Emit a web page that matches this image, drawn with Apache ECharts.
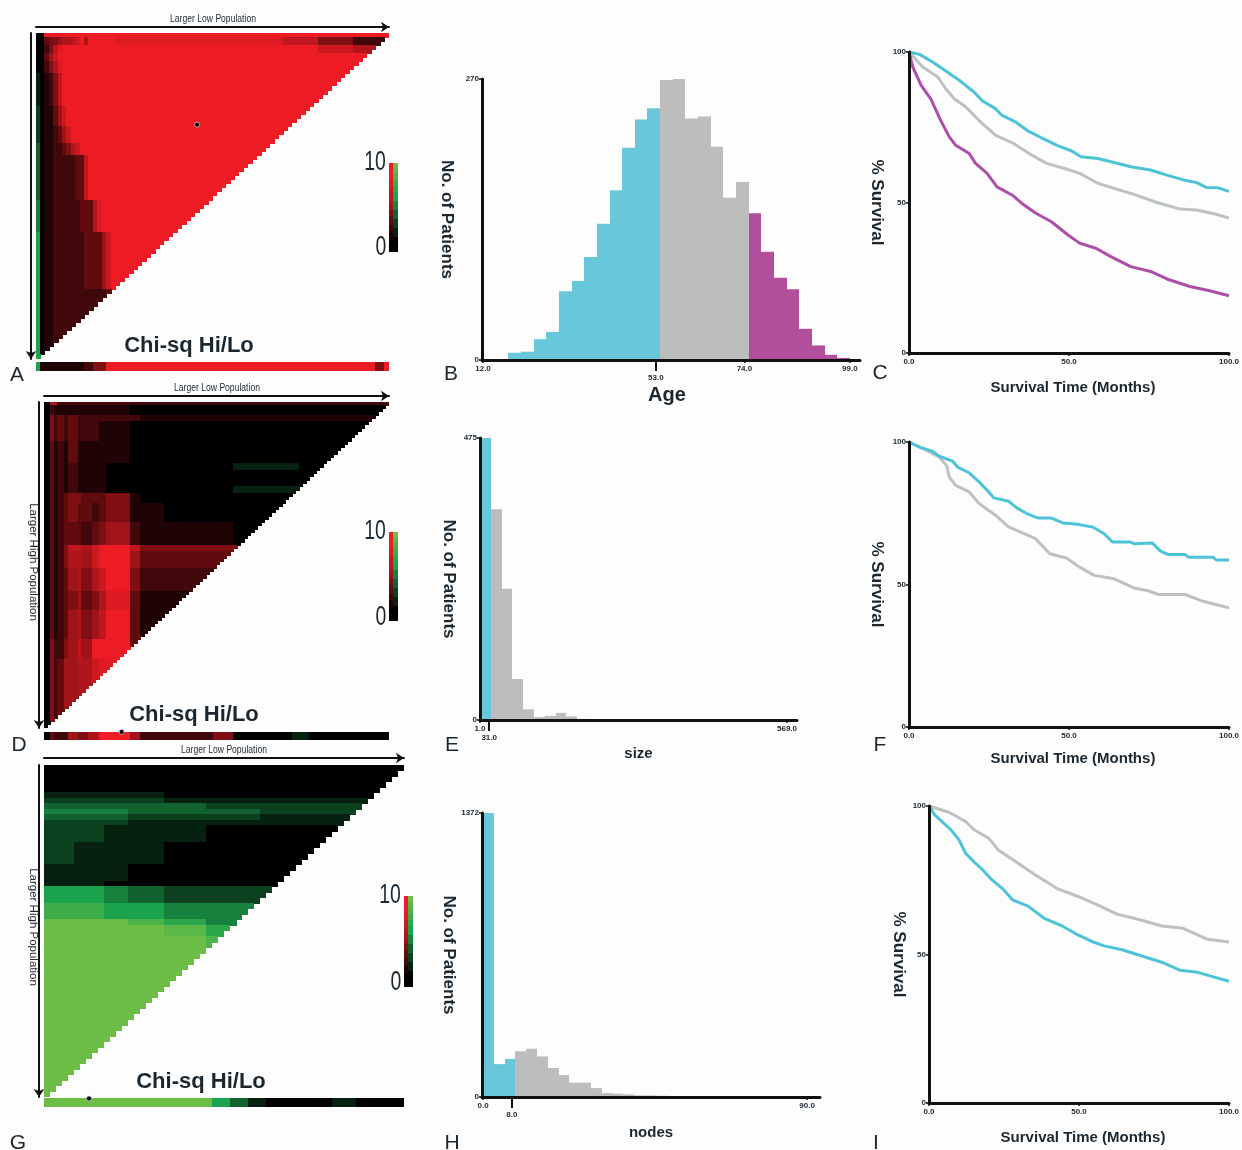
<!DOCTYPE html>
<html>
<head>
<meta charset="utf-8">
<title>X-tile panels</title>
<script src="https://cdn.jsdelivr.net/npm/echarts@6/dist/echarts.min.js"></script>
<style>
	html, body { margin: 0; padding: 0; background: #fdfdfe; }
	#chartBox { width: 1242px; height: 1150px; }
</style>
</head>
<body>
<div id="chartBox"></div>
<script>
// heat tables: [rows in band, one char per column band]
// 0-9 and X = red side (0..10), a-j = green side (-1..-10)
var heatASpans = [1,1,1,1,1,1,1,1,1,1,1,1,1,1,1,1,1,1,38,8,8,8];
var heatARows = [
	[1, '00XXXXXXXXXXXXXXXXXXXX'],
	[2, '0034456678X6XXXXXX9742'],
	[2, '002479XXXXXXXXXXXXXX86'],
	[2, '00358XXXXXXXXXXXXXXXXX'],
	[3, '002469XXXXXXXXXXXXXXXX'],
	[8, 'a01247XXXXXXXXXXXXXXXX'],
	[5, 'b011358XXXXXXXXXXXXXXX'],
	[4, 'b0112358XXXXXXXXXXXXXX'],
	[3, 'c011223468XXXXXXXXXXXX'],
	[11, 'c01122222337XXXXXXXXXX'],
	[8, 'd01122222233369XXXXXXX'],
	[14, 'e0112222222333358XXXXX'],
	[17, 'e0112222222222223XXXXX']
];
var stripASpans = [1,10,2,3,61,2,1];
var stripAVals = [-5,1,2,4,10,4,10];

var heatDSpans = [2,1,1,2,1,3,1,3,2,2,7,3,7,10,10,19,26];
var heatDRows = [
	[1, '06622222222222222'],
	[3, '02111111111000000'],
	[2, '04232322222211111'],
	[6, '04232322211000000'],
	[7, '03121311111000000'],
	[2, '031212111100000a0'],
	[5, '03121211110000000'],
	[2, '031212111100000a0'],
	[3, '03123443334100000'],
	[6, '03123433234110000'],
	[7, '03123332345211100'],
	[2, '031247768XX744444'],
	[5, '031246658XX533333'],
	[7, '0312356468X422222'],
	[6, '03123453469311111'],
	[9, '0312356457X311111'],
	[6, '04224575XXX311111'],
	[21, '04235566899311111']
];
var stripDSpans = [2,1,4,3,3,3,4,5,3,8,9,4,6,17,5,23];
var stripDVals = [0,3,2,5,4,6,10,10,5,2,2,2,4,0,-1,0];

var heatGSpans = [5,5,4,6,7,9,24];
var heatGRows = [
	[5, '0000000'],
	[1, 'aaaa000'],
	[1, 'bbbbaaa'],
	[1, 'cccccbb'],
	[1, 'dddcccb'],
	[1, 'cccbbba'],
	[1, 'bbbaaaa'],
	[3, 'bbaaa00'],
	[4, 'baaa000'],
	[3, 'aaa0000'],
	[1, 'aa00000'],
	[3, 'eedcbbb'],
	[3, 'ggeeddc'],
	[1, 'jjjhfdd'],
	[2, 'jjjjifd'],
	[3, 'jjjjjhj'],
	[26, 'jjjjjjj']
];
var stripGSpans = [28,3,3,3,11,4,8];
var stripGVals = [-10,-5,-3,-1,0,-1,0];

var legendRed = [10,10,10,10,10,10,9,9,8,8,7,7,6,6,5,5,4,4,3,3,3,2,2,1,1,1,0,0,0,0];
var legendGreen = [-10,-10,-9,-9,-8,-8,-7,-7,-6,-6,-5,-5,-5,-4,-4,-4,-3,-3,-3,-2,-2,-2,-1,-1,-1,0,0,0,0,0];

// histograms
var ageStart = 18;
var ageBinWidth = 3;
var ageCounts = [7,8,20,27,66,76,99,131,163,204,231,242,269,270,232,234,205,156,171,141,104,79,68,30,14,5,2];
var ageTicks = [12,74,99];
var ageCutTick = [53];

var sizeStart = 1;
var sizeBinWidth = 20;
var sizeCounts = [475,355,221,69,18,5,7,12,6,2];
var sizeTicks = [1,569];
var sizeCutTick = [18];

var nodeStart = 0;
var nodeBinWidth = 3;
var nodeCounts = [1372,159,184,221,233,196,140,106,69,69,43,19,16,13,8,8,6,5,4,3,3,3,2,2,1,1,1,1,1,1];
var nodeTicks = [0,90];
var nodeCutTick = [8];

// survival curves, [months, % surviving]
var survCHigh = [[0,100],[3.3,99.2],[7.4,96.7],[11.5,93.7],[15.7,90.6],[20.3,86.7],[22.9,83.8],[27,81.2],[29,79],[33.2,76.8],[37.3,73.7],[41.4,71.5],[46.6,68.8],[50.7,67.2],[53.8,65.2],[59,64.6],[64.1,63.3],[69.3,61.9],[75.5,60.8],[80.6,59.1],[85.8,57.5],[89.9,56.6],[92.9,55],[96.5,54.9],[100,53.7]];
var survCMid = [[0,100],[4.3,95],[9,91.7],[11.5,87.8],[14.1,84.5],[17.7,81.8],[21.8,77.3],[27,72.4],[32.7,69.6],[38.4,65.7],[43,63],[48.7,61.3],[53.3,59.7],[59,56.4],[64.1,54.7],[70.3,52.7],[77.5,50],[84.7,47.8],[89.9,47.5],[96,46.1],[100,44.8]];
var survCLow = [[0,100],[1.2,95],[3.8,88.9],[6.8,84.4],[9.9,77.3],[12.6,71.8],[14.6,69],[18.8,66.3],[20.8,63],[24.4,59.7],[27.5,55.2],[32.2,52.5],[35.3,49.7],[39.4,46.6],[44.5,43.6],[49.7,39.2],[53.3,36.5],[58.4,34.8],[63.1,32],[69.3,28.7],[75.5,27.1],[80.6,24.6],[87.8,22.1],[94,20.7],[100,19]];
var survFHigh = [[0,100],[3.3,98.2],[7.4,96.7],[9.5,95],[13.6,93.3],[15.2,91.2],[18.8,89.2],[21.9,86],[24.5,83],[26.5,80.4],[31.1,79.2],[33.7,76.9],[36.8,74.9],[40.4,73.3],[44.5,73.3],[48.1,71.6],[52.8,71.1],[57.4,70.2],[60.9,67.9],[63.6,64.9],[69.3,64.9],[70.3,64.3],[76,64.6],[78.6,61.7],[81.1,60.5],[86.3,60.5],[87.3,59.6],[95,59.6],[96,58.6],[100,58.6]];
var survFMid = [[0,100],[5.4,97.1],[9.5,94.7],[11.8,91.6],[12.6,87.7],[14.6,84.8],[18.8,82.5],[21.9,78.4],[27,74.3],[31.1,70.2],[39.4,66.2],[44,60.8],[49.2,59.3],[53.3,56.1],[57.9,53.2],[64.1,52],[70.3,48.8],[74.4,47.9],[78,46.5],[86.3,46.5],[91.9,44.1],[100,41.8]];
var survIMid = [[0,100],[6.8,97.8],[12.2,94.8],[15,92],[19.9,89.2],[23.1,85.2],[28.6,81.5],[35.1,77],[42.7,72.2],[49.3,69.7],[55.8,66.9],[62.9,63.5],[70,61.8],[77.6,59.6],[84.7,58.8],[92.9,55.1],[100,54.2]];
var survILow = [[0,100],[1.9,97],[7.3,92],[10,88.6],[12.2,84.1],[15,81.2],[17.7,78.7],[21,75.1],[24.8,71.9],[28,68.3],[33,66.3],[38.4,62.2],[44.4,59.6],[49.8,56.5],[54.8,54.2],[58.1,53],[64.7,51.5],[71.2,49.4],[77.6,47.4],[83.6,44.7],[89.6,44],[95.1,42.4],[100,41]];

var CYAN = '#69c7da';
var GREY = '#bdbdbd';
var PURPLE = '#b24f9d';
var LINE_CYAN = '#4cc3d7';
var LINE_GREY = '#bcc1c4';
var LINE_PURPLE = '#ab4fa9';
var INK = '#1b2730';
var FONT = '"Liberation Sans", Arial, sans-serif';

var option = {
	backgroundColor: '#fdfdfe',
	animation: false,
	grid: [],
	xAxis: [],
	yAxis: [],
	series: [],
	graphic: [],
	visualMap: {
		show: false,
		min: -10,
		max: 10,
		dimension: 2,
		seriesIndex: [],
		inRange: { color: ['#6cbd45', '#1ca34e', '#000000', '#a01318', '#ed1c24'] }
	}
};

function cats(n) {
	let out = [];
	for (let i = 0; i < n; i++) out.push(i);
	return out;
}

function charValue(ch) {
	if (ch === 'X') return 10;
	if (ch >= '0' && ch <= '9') return +ch;
	return -(ch.charCodeAt(0) - 96);
}

function expandHeat(spans, rows, n) {
	let out = [];
	let r = 0;
	rows.forEach(function (band) {
		for (let k = 0; k < band[0]; k++) {
			let c = 0;
			for (let b = 0; b < spans.length; b++) {
				for (let s = 0; s < spans[b]; s++) {
					// lower right half of the table has no cells
					if (c + r < n) out.push([c, r, charValue(band[1].charAt(b))]);
					c++;
				}
			}
			r++;
		}
	});
	return out;
}

function expandStrip(spans, vals) {
	let out = [];
	let c = 0;
	spans.forEach(function (s, i) {
		for (let k = 0; k < s; k++) {
			out.push([c, 0, vals[i]]);
			c++;
		}
	});
	return out;
}

function plainGrid(rect, xCount, yCount, yInverse) {
	let idx = option.grid.length;
	option.grid.push(rect);
	option.xAxis.push({ type: 'category', gridIndex: idx, data: cats(xCount), show: false });
	option.yAxis.push({ type: 'category', gridIndex: idx, data: cats(yCount), show: false, inverse: !!yInverse });
	return idx;
}

// cells snapped outward to whole pixels, the heatmap series leaves hairlines between them
function renderCell(params, api) {
	let p = api.coord([api.value(0), api.value(1)]);
	let s = api.size([1, 1]);
	let left = Math.floor(p[0] - s[0] / 2);
	let right = Math.ceil(p[0] + s[0] / 2);
	let top = Math.floor(p[1] - s[1] / 2);
	let bottom = Math.ceil(p[1] + s[1] / 2);
	return {
		type: 'rect',
		shape: { x: left, y: top, width: right - left, height: bottom - top },
		style: { fill: api.visual('color') }
	};
}

function addHeatSeries(idx, data) {
	option.visualMap.seriesIndex.push(option.series.length);
	option.series.push({
		type: 'custom', xAxisIndex: idx, yAxisIndex: idx, data: data, renderItem: renderCell,
		encode: { x: 0, y: 1 }, progressive: 0, silent: true
	});
}

function addDot(idx, x, y, offset) {
	option.series.push({
		type: 'scatter', xAxisIndex: idx, yAxisIndex: idx, data: [[x, y]], symbolSize: 5, silent: true,
		symbolOffset: [0, offset || 0], z: 5, clip: false,
		itemStyle: { color: '#000', borderColor: '#c8c8c8', borderWidth: 0.8, opacity: 1 }
	});
}

function text(str, x, y, size, bold, extra) {
	let item = {
		type: 'text', x: x, y: y, z: 20, silent: true,
		style: {
			text: str, fill: INK, font: (bold ? 'bold ' : '') + size + 'px ' + FONT,
			textAlign: 'center', textVerticalAlign: 'middle'
		}
	};
	for (let k in (extra || {})) item[k] = extra[k];
	option.graphic.push(item);
}

function arrowLine(symbol) {
	return {
		show: true, onZero: false, symbol: symbol, symbolSize: [8, 8],
		lineStyle: { color: '#111', width: 2 }
	};
}

function heatPanel(p) {
	let idx = option.grid.length;
	option.grid.push(p.map);
	option.xAxis.push({
		type: 'category', gridIndex: idx, data: cats(p.n), position: 'top', offset: p.arrowGap[0],
		axisLine: arrowLine(['none', 'arrow']), axisTick: { show: false }, axisLabel: { show: false }, splitLine: { show: false }
	});
	option.yAxis.push({
		type: 'category', gridIndex: idx, data: cats(p.n), position: 'left', offset: p.arrowGap[1], inverse: true,
		axisLine: arrowLine(['arrow', 'none']), axisTick: { show: false }, axisLabel: { show: false }, splitLine: { show: false }
	});
	addHeatSeries(idx, expandHeat(p.spans, p.rows, p.n));
	if (p.mapDot) addDot(idx, p.mapDot[0], p.mapDot[1]);

	let stripIdx = plainGrid(p.strip, p.n, 1);
	addHeatSeries(stripIdx, expandStrip(p.stripSpans, p.stripVals));
	if (p.stripDot !== undefined) addDot(stripIdx, p.stripDot, 0, -4);

	let legIdx = plainGrid(p.legend, 2, legendRed.length, true);
	let legData = [];
	legendRed.forEach(function (v, i) {
		legData.push([0, i, v]);
		legData.push([1, i, legendGreen[i]]);
	});
	addHeatSeries(legIdx, legData);

	text('Larger Low Population', p.topLabel[0], p.topLabel[1], 11, false, { scaleX: 0.78 });
	if (p.sideLabel) text('Larger High Population', p.sideLabel[0], p.sideLabel[1], 11.5, false, { rotation: -Math.PI / 2 });
	text('Chi-sq Hi/Lo', p.title[0], p.title[1], 22, true);
	text('10', p.tick10[0], p.tick10[1], 27, false, { scaleX: 0.72 });
	text('0', p.tick0[0], p.tick0[1], 27, false, { scaleX: 0.72 });
	text(p.letter[0], p.letter[1], p.letter[2], 21, false);
}

function axisBase(idx) {
	return {
		type: 'value', gridIndex: idx, splitLine: { show: false },
		axisLine: { show: true, onZero: false, lineStyle: { color: '#111', width: 3 } },
		axisTick: { show: true, length: 3, lineStyle: { color: '#111', width: 1.5 } },
		axisLabel: { fontFamily: FONT, fontSize: 8, fontWeight: 'bold', color: INK, margin: 3 }
	};
}

function histPanel(p) {
	let idx = option.grid.length;
	option.grid.push(p.rect);
	let labelOf = function (v) {
		return p.tickNames && p.tickNames[v] ? p.tickNames[v] : v.toFixed(1);
	};

	let x = axisBase(idx);
	x.position = 'bottom';
	x.min = p.xMin;
	x.max = p.xMax;
	x.z = 4;
	x.name = p.xName;
	x.nameLocation = 'middle';
	x.nameGap = p.xNameGap;
	x.nameTextStyle = { fontFamily: FONT, fontWeight: 'bold', fontSize: p.xNameSize, color: INK, padding: p.xNamePad || 0 };
	x.axisTick.customValues = p.ticks;
	x.axisLabel.customValues = p.ticks;
	x.axisLabel.formatter = labelOf;
	x.axisLabel.margin = 5;
	option.xAxis.push(x);

	// the cut point has a longer tick and its label sits one line lower
	let cut = axisBase(idx);
	cut.position = 'bottom';
	cut.min = p.xMin;
	cut.max = p.xMax;
	cut.axisLine = { show: false, onZero: false };
	cut.axisTick = { show: true, length: 11, customValues: p.cutTick, lineStyle: { color: '#111', width: 2 } };
	cut.axisLabel.customValues = p.cutTick;
	cut.axisLabel.formatter = labelOf;
	cut.axisLabel.margin = 14;
	option.xAxis.push(cut);
	let xi = option.xAxis.length - 2;

	let y = axisBase(idx);
	y.min = 0;
	y.max = p.yMax;
	y.interval = p.yMax;
	y.z = 4;
	y.name = 'No. of Patients';
	y.nameLocation = 'middle';
	y.nameRotate = -90;
	y.nameGap = p.yNameGap;
	y.nameTextStyle = { fontFamily: FONT, fontWeight: 'bold', fontSize: 17, color: INK };
	y.axisLabel.formatter = function (v) { return String(v); };
	option.yAxis.push(y);
	let yi = option.yAxis.length - 1;

	let data = p.counts.map(function (c, i) {
		return [p.start + i * p.binWidth, p.start + (i + 1) * p.binWidth, c];
	});
	option.series.push({
		type: 'custom', xAxisIndex: xi, yAxisIndex: yi, data: data, silent: true,
		encode: { x: [0, 1], y: 2 },
		renderItem: function (params, api) {
			let a = api.coord([api.value(0), api.value(2)]);
			let b = api.coord([api.value(1), 0]);
			let left = Math.round(a[0]);
			let right = Math.round(b[0]);
			let fill = GREY;
			if (api.value(0) < p.cyanEnd) fill = CYAN;
			if (p.purpleStart !== undefined && api.value(0) >= p.purpleStart) fill = PURPLE;
			return { type: 'rect', shape: { x: left, y: a[1], width: right - left, height: b[1] - a[1] }, style: { fill: fill } };
		}
	});
	text(p.letter[0], p.letter[1], p.letter[2], 21, false);
}

function survPanel(p) {
	let idx = option.grid.length;
	option.grid.push(p.rect);
	let x = axisBase(idx);
	x.min = 0;
	x.max = 100;
	x.interval = 50;
	x.z = 4;
	x.name = 'Survival Time (Months)';
	x.nameLocation = 'middle';
	x.nameGap = p.xNameGap;
	x.nameTextStyle = { fontFamily: FONT, fontWeight: 'bold', fontSize: 15, color: INK, padding: [0, 0, 0, 8] };
	x.axisLabel.margin = 5;
	x.axisLabel.formatter = function (v) { return v.toFixed(1); };
	option.xAxis.push(x);
	let y = axisBase(idx);
	y.min = 0;
	y.max = 100;
	y.interval = 50;
	y.z = 4;
	y.name = '% Survival';
	y.nameLocation = 'middle';
	y.nameRotate = -90;
	y.nameGap = p.yNameGap;
	y.nameTextStyle = { fontFamily: FONT, fontWeight: 'bold', fontSize: 17, color: INK };
	option.yAxis.push(y);
	let xi = option.xAxis.length - 1;
	let yi = option.yAxis.length - 1;
	p.lines.forEach(function (l) {
		option.series.push({
			type: 'line', xAxisIndex: xi, yAxisIndex: yi, data: l[0], showSymbol: false, silent: true,
			lineStyle: { color: l[1], width: 3 }, clip: false
		});
	});
	text(p.letter[0], p.letter[1], p.letter[2], 21, false);
}

heatPanel({
	n: 80, spans: heatASpans, rows: heatARows, stripSpans: stripASpans, stripVals: stripAVals,
	map: { left: 36, top: 33, width: 353, height: 326 }, arrowGap: [6, 5],
	strip: { left: 36, top: 362, width: 353, height: 9 },
	legend: { left: 389, top: 163, width: 9, height: 89 },
	mapDot: [36, 22],
	topLabel: [213, 19], title: [189, 346], tick10: [375, 163], tick0: [381, 248], letter: ['A', 17, 375]
});
heatPanel({
	n: 100, spans: heatDSpans, rows: heatDRows, stripSpans: stripDSpans, stripVals: stripDVals,
	map: { left: 44, top: 402, width: 345, height: 326 }, arrowGap: [6, 5],
	strip: { left: 44, top: 732, width: 345, height: 8 },
	legend: { left: 389, top: 532, width: 9, height: 89 },
	stripDot: 22,
	topLabel: [217, 388], sideLabel: [33, 562], title: [194, 715], tick10: [375, 532], tick0: [381, 618], letter: ['D', 19, 745]
});
heatPanel({
	n: 60, spans: heatGSpans, rows: heatGRows, stripSpans: stripGSpans, stripVals: stripGVals,
	map: { left: 44, top: 765, width: 360, height: 332 }, arrowGap: [7, 5],
	strip: { left: 44, top: 1098, width: 360, height: 9 },
	legend: { left: 404, top: 896, width: 9, height: 91 },
	stripDot: 7,
	topLabel: [224, 750], sideLabel: [33, 927], title: [201, 1082], tick10: [390, 896], tick0: [396, 983], letter: ['G', 18, 1143]
});

histPanel({
	rect: { left: 482, top: 79, width: 378, height: 281 },
	xMin: 11.76, xMax: 101.4, yMax: 270, ticks: ageTicks, cutTick: ageCutTick,
	start: ageStart, binWidth: ageBinWidth, counts: ageCounts, cyanEnd: 54, purpleStart: 75,
	xName: 'Age', xNameGap: 25, xNameSize: 20, xNamePad: [0, 8, 0, 0], yNameGap: 27, letter: ['B', 451, 374]
});
histPanel({
	rect: { left: 480, top: 438, width: 317, height: 282 },
	xMin: 1, xMax: 587.5, yMax: 475, ticks: sizeTicks, cutTick: sizeCutTick,
	tickNames: { 1: '1.0', 18: '31.0', 569: '569.0' },
	start: sizeStart, binWidth: sizeBinWidth, counts: sizeCounts, cyanEnd: 21,
	xName: 'size', xNameGap: 26, xNameSize: 15, yNameGap: 23, letter: ['E', 452, 745]
});
histPanel({
	rect: { left: 482, top: 813, width: 338, height: 284 },
	xMin: -0.3, xMax: 93.6, yMax: 1372, ticks: nodeTicks, cutTick: nodeCutTick,
	start: nodeStart, binWidth: nodeBinWidth, counts: nodeCounts, cyanEnd: 9,
	xName: 'nodes', xNameGap: 28, xNameSize: 15, yNameGap: 24, letter: ['H', 452, 1143]
});

survPanel({
	rect: { left: 909, top: 52, width: 324, height: 301 }, xNameGap: 27, yNameGap: 24, letter: ['C', 880, 373],
	lines: [[survCMid, LINE_GREY], [survCHigh, LINE_CYAN], [survCLow, LINE_PURPLE]]
});
survPanel({
	rect: { left: 909, top: 442, width: 324, height: 285 }, xNameGap: 24, yNameGap: 24, letter: ['F', 880, 745],
	lines: [[survFMid, LINE_GREY], [survFHigh, LINE_CYAN]]
});
survPanel({
	rect: { left: 929, top: 806, width: 306, height: 297 }, xNameGap: 27, yNameGap: 22, letter: ['I', 876, 1143],
	lines: [[survIMid, LINE_GREY], [survILow, LINE_CYAN]]
});

var chart = echarts.init(document.getElementById('chartBox'));
chart.setOption(option);
</script>
</body>
</html>
